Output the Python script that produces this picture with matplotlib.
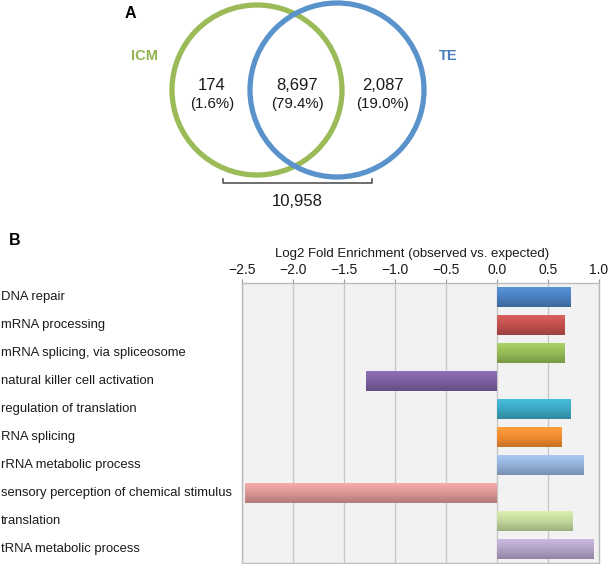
import numpy as np
import matplotlib
matplotlib.use("Agg")
import matplotlib.pyplot as plt
from matplotlib.patches import Circle
from matplotlib.colors import LinearSegmentedColormap, to_rgb
import matplotlib.transforms as mtransforms

plt.rcParams['font.family'] = ['Liberation Sans', 'DejaVu Sans']

# donnees du Venn
venn_counts = ["174", "8,697", "2,087"]
venn_pcts = ["(1.6%)", "(79.4%)", "(19.0%)"]
venn_sets = ["ICM", "TE"]
venn_total = "10,958"

# donnees de l'enrichissement GO
terms = ["DNA repair", "mRNA processing", "mRNA splicing, via spliceosome",
         "natural killer cell activation", "regulation of translation",
         "RNA splicing", "rRNA metabolic process",
         "sensory perception of chemical stimulus", "translation",
         "tRNA metabolic process"]
log2_fe = [0.72, 0.66, 0.66, -1.28, 0.72, 0.63, 0.85, -2.47, 0.74, 0.95]
bar_colors = ["#4a7fbf", "#c0504d", "#94b955", "#7b5fa0", "#3aa7c2",
              "#f08a30", "#93b0d8", "#d99694", "#c1d69b", "#b3a2c7"]
xticks = [-2.5, -2.0, -1.5, -1.0, -0.5, 0.0, 0.5, 1.0]

W, H = 609, 564
fig = plt.figure(figsize=(W / 100, H / 100), dpi=100)

# ---- panneau A : Venn (coordonnees en pixels) ----
axv = fig.add_axes([0, 1 - 225 / H, 1, 225 / H])
axv.set_xlim(0, W)
axv.set_ylim(225, 0)
axv.axis("off")

green = "#9bbb59"
blue = "#5a93cc"
axv.add_patch(Circle((257, 90), 85, fill=False, ec=green, lw=3.8))
axv.add_patch(Circle((337, 90), 87, fill=False, ec=blue, lw=3.8))

for cx, c, p in zip([212, 297, 383], venn_counts, venn_pcts):
    axv.text(cx, 86, c, ha="center", va="center", fontsize=12, color="#1a1a1a")
    axv.text(cx, 104, p, ha="center", va="center", fontsize=10.8, color="#1a1a1a")

axv.text(145, 56, venn_sets[0], ha="center", va="center", fontsize=10.5,
         fontweight="bold", color="#93b54f")
axv.text(448, 56, venn_sets[1], ha="center", va="center", fontsize=10.5,
         fontweight="bold", color="#4a7fbf")

axv.plot([223, 223, 372, 372], [179, 183, 183, 179], color="#555555", lw=1.2)
axv.text(297, 202, venn_total, ha="center", va="center", fontsize=12, color="#1a1a1a")
axv.text(130, 13, "A", ha="center", va="center", fontsize=11.5, fontweight="bold")

# ---- panneau B : barres horizontales ----
ax = fig.add_axes([242 / W, 1 / H, 357 / W, 280 / H])
ax.set_facecolor("#f2f2f2")
y = np.arange(len(terms))
bars = ax.barh(y, log2_fe, height=0.68, color=bar_colors, zorder=2)

# degrade vertical sur chaque barre
for b, col in zip(bars, bar_colors):
    r, g, bb = to_rgb(col)
    top = tuple(min(1, v * 1.08 + 0.04) for v in (r, g, bb))
    bot = tuple(v * 0.82 for v in (r, g, bb))
    cmap = LinearSegmentedColormap.from_list("g", [top, (r, g, bb), bot])
    x0, yb = b.get_x(), b.get_y()
    w, h = b.get_width(), b.get_height()
    im = ax.imshow(np.linspace(0, 1, 50).reshape(-1, 1), cmap=cmap, aspect="auto",
                   extent=(x0, x0 + w, yb + h, yb), origin="upper", zorder=3)
    im.set_clip_path(b)

ax.set_xlim(-2.5, 1.0)
ax.set_ylim(len(terms) - 0.5, -0.5)
ax.set_xticks(xticks)
ax.set_xticklabels([f"{t:.1f}".replace("-", "\u2212") for t in xticks])
ax.xaxis.tick_top()
ax.xaxis.set_label_position("top")
ax.tick_params(axis="x", length=3, color="#999999", labelsize=10, pad=1, labelcolor="#1a1a1a")
ax.set_yticks([])
ax.grid(axis="x", color="#c8c8c8", lw=1, zorder=0)
ax.set_axisbelow(True)
for s in ax.spines.values():
    s.set_color("#bbbbbb")
    s.set_linewidth(1)

ax.set_title("Log2 Fold Enrichment (observed vs. expected)", fontsize=9.5,
             pad=19, color="#1a1a1a", x=0.475)

trans = mtransforms.blended_transform_factory(fig.transFigure, ax.transData)
for i, t in enumerate(terms):
    ax.text(1 / W, i, t, transform=trans, ha="left", va="center",
            fontsize=9.4, color="#1a1a1a")

fig.text(15 / W, 1 - 241 / H, "B", ha="center", va="center", fontsize=11.5,
         fontweight="bold")

fig.savefig("out.png", dpi=100)
